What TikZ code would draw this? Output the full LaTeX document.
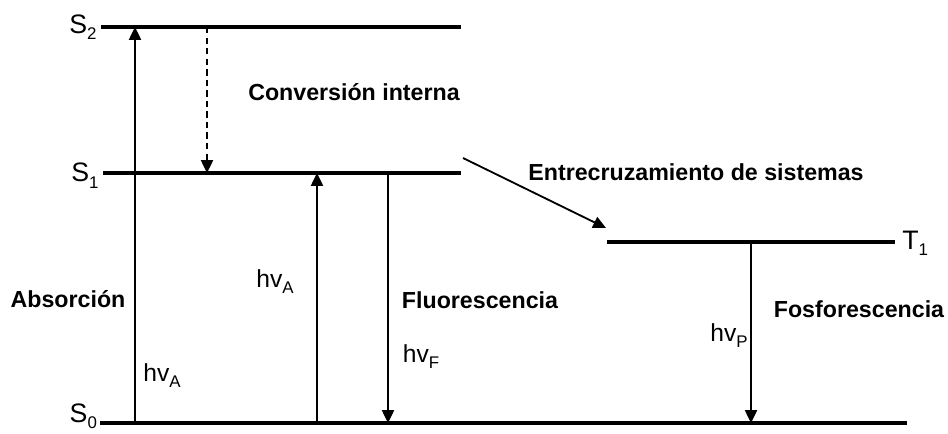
\documentclass[tikz,border=0pt]{standalone}
\usepackage{fontspec}
\setmainfont{Liberation Sans}
\usetikzlibrary{arrows.meta,positioning,calc}
\newcommand{\lowsub}[2]{#1\raisebox{-0.45ex}{\fontsize{12}{12}\selectfont #2}}
\tikzset{
  level/.style={line width=2.6pt, draw=black},
  trans/.style={-{Triangle[length=3.2mm,width=3mm]}, line width=1.3pt, draw=black},
  nonrad/.style={trans, dash pattern=on 4.5pt off 3pt},
  lab/.style={font=\bfseries\fontsize{16.5}{18}\selectfont, inner sep=0pt},
  st/.style={font=\fontsize{19}{20}\selectfont, inner sep=0pt},
  hv/.style={font=\fontsize{17.5}{18}\selectfont, inner sep=0pt},
}

\begin{document}
\begin{tikzpicture}[x=0.025cm, y=-0.025cm]
    \useasboundingbox (0,0) rectangle (948,434);
    % energy levels
    \coordinate (s2a) at (101,27);  \coordinate (s2b) at (461,27);
    \coordinate (s1a) at (103,173); \coordinate (s1b) at (461,173);
    \coordinate (s0a) at (100,423); \coordinate (s0b) at (907,423);
    \coordinate (t1a) at (607,242); \coordinate (t1b) at (895,242);
    \foreach \l in {s2,s1,s0,t1} { \draw[level] (\l a) -- (\l b); }
    \node[st, left=3pt of s2a] (s2) {\lowsub{S}{2}};
    \node[st, left=3pt of s1a, yshift=-2pt] (s1) {\lowsub{S}{1}};
    \node[st, left=2pt of s0a, yshift=5pt] (s0) {\lowsub{S}{0}};
    \node[st, right=5pt of t1b, yshift=-1pt] (t1) {\lowsub{T}{1}};
    % transitions
    \draw[trans] (s0a -| 135,0) -- (s2a -| 135,0);
    \draw[nonrad] (s2a -| 207,0) -- (s1a -| 207,0);
    \draw[trans] (s0a -| 317,0) -- (s1a -| 317,0);
    \draw[trans] (s1a -| 388,0) -- (s0a -| 388,0);
    \draw[trans] (t1a -| 751,0) -- (s0a -| 751,0);
    \coordinate (isc) at (463,158);
    \draw[trans] (isc) -- (606,228);
    % labels
    \node[lab] (ci) at (354,92) {Conversión interna};
    \node[lab] (ec) at (696,172) {Entrecruzamiento de sistemas};
    \node[lab] (ab) at (68,299) {Absorción};
    \node[lab] (fl) at (480,300) {Fluorescencia};
    \node[lab] (fo) at (859,309) {Fosforescencia};
    \node[hv] (hva) at (162,376) {\lowsub{hv}{A}};
    \node[hv] (hvb) at (275,282) {\lowsub{hv}{A}};
    \node[hv] (hvf) at (421,357) {\lowsub{hv}{F}};
    \node[hv] (hvp) at (729,336) {\lowsub{hv}{P}};
\end{tikzpicture}
\end{document}
